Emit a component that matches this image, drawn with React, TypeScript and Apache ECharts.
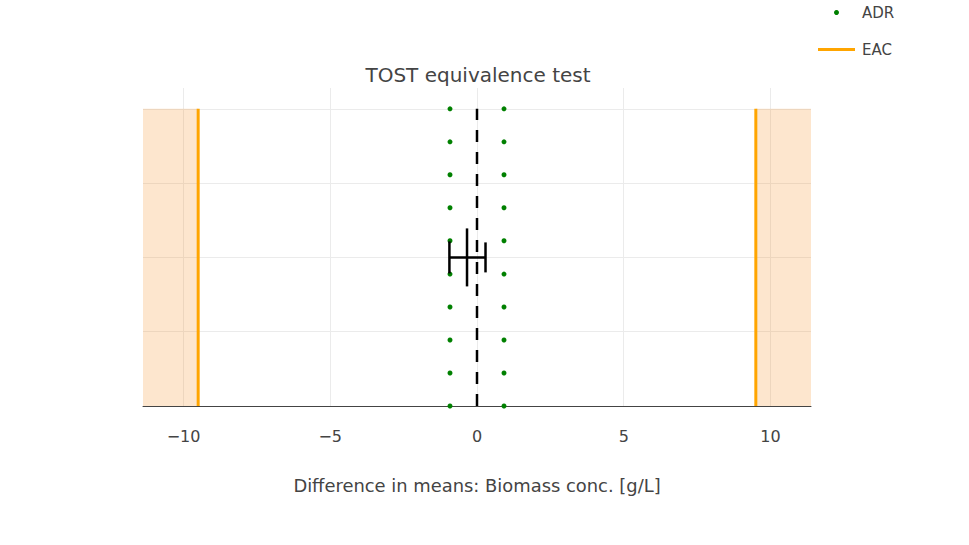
import React, { useEffect, useRef } from "react";
import * as echarts from "echarts";

// x axis extent and tick labels
const xRange = [-11.38, 11.38];
const xTicks = [-10, -5, 0, 5, 10];

// acceptable difference range (ADR) markers
const adrBounds = [-0.92, 0.92];
const adrY = [0, 0.111, 0.222, 0.333, 0.444, 0.556, 0.667, 0.778, 0.889, 1];

// equivalence acceptance criterion (EAC)
const eac = [-9.5, 9.5];

// difference in means: [estimate, lower, upper, y]
const diffMeans = [[-0.34, -0.94, 0.29, 0.5]];

const FONT = "DejaVu Sans, Verdana, sans-serif";

const App: React.FC = () => {
  const chartRef = useRef<HTMLDivElement>(null);

  useEffect(() => {
    if (!chartRef.current) return;
    const myChart = echarts.init(chartRef.current, undefined, { renderer: "svg" });

    const adrData = adrBounds.flatMap((x) => adrY.map((y) => [x, y]));

    const option: any = {
      animation: false,
      backgroundColor: "#fff",
      textStyle: { fontFamily: FONT, color: "#444" },
      title: {
        text: "TOST equivalence test",
        left: 478,
        top: 65,
        padding: 0,
        textAlign: "center",
        textStyle: { fontFamily: FONT, fontSize: 20, fontWeight: "normal", color: "#444" },
      },
      legend: {
        orient: "vertical",
        left: 818,
        top: 5,
        itemWidth: 37,
        itemHeight: 5,
        itemGap: 22,
        padding: 0,
        textStyle: { fontFamily: FONT, fontSize: 15, color: "#444", padding: [0, 0, 0, 2] },
        data: [
          { name: "ADR", icon: "circle" },
          { name: "EAC", icon: "path://M0,0H37V3H0Z" },
        ],
      },
      grid: { left: 143, right: 158, top: 88, bottom: 139 },
      xAxis: {
        type: "value",
        min: xRange[0],
        max: xRange[1],
        name: "Difference in means: Biomass conc. [g/L]",
        nameLocation: "middle",
        nameGap: 70,
        nameTextStyle: { fontFamily: FONT, fontSize: 17.9, color: "#444" },
        axisLine: { show: true, onZero: false, lineStyle: { color: "#444", width: 1 } },
        axisTick: { show: false },
        axisLabel: {
          margin: 22,
          fontSize: 16,
          color: "#444",
          fontFamily: FONT,
          showMinLabel: false,
          showMaxLabel: false,
          formatter: (v: number) =>
            xTicks.includes(v) ? (v < 0 ? "\u2212" + Math.abs(v) : String(v)) : "",
        },
        splitLine: {
          show: true,
          showMinLine: false,
          showMaxLine: false,
          lineStyle: { color: "#ebebeb", width: 1 },
        },
      },
      yAxis: {
        type: "value",
        min: 0,
        max: 1.07,
        interval: 0.25,
        axisLine: { show: false },
        axisTick: { show: false },
        axisLabel: { show: false },
        splitLine: {
          show: true,
          showMinLine: false,
          showMaxLine: false,
          lineStyle: { color: "#ebebeb", width: 1 },
        },
      },
      series: [
        {
          name: "EAC",
          type: "line",
          symbol: "none",
          silent: true,
          lineStyle: { color: "#ffa500", width: 3 },
          itemStyle: { color: "#ffa500" },
          data: [
            [eac[0], 0],
            [eac[0], 1],
          ],
          markArea: {
            silent: true,
            itemStyle: { color: "rgba(247, 140, 30, 0.22)" },
            data: [
              [
                { xAxis: xRange[0], yAxis: 0 },
                { xAxis: eac[0], yAxis: 1 },
              ],
              [
                { xAxis: eac[1], yAxis: 0 },
                { xAxis: xRange[1], yAxis: 1 },
              ],
            ],
          },
          z: 3,
        },
        {
          name: "EAC",
          type: "line",
          symbol: "none",
          silent: true,
          lineStyle: { color: "#ffa500", width: 3 },
          itemStyle: { color: "#ffa500" },
          data: [
            [eac[1], 0],
            [eac[1], 1],
          ],
          z: 3,
        },
        {
          name: "zero",
          type: "line",
          symbol: "none",
          silent: true,
          lineStyle: { color: "#000", width: 2.5, type: [12, 10] },
          data: [
            [0, 0],
            [0, 1],
          ],
          z: 4,
        },
        {
          name: "ADR",
          type: "scatter",
          symbol: "circle",
          symbolSize: 5,
          itemStyle: { color: "#008000", opacity: 1 },
          data: adrData,
          z: 5,
        },
        {
          name: "diff",
          type: "custom",
          silent: true,
          encode: { x: [0, 1, 2], y: 3 },
          data: diffMeans,
          renderItem: (params: any, api: any) => {
            const y = api.value(3);
            const c = api.coord([api.value(0), y]);
            const l = api.coord([api.value(1), y]);
            const r = api.coord([api.value(2), y]);
            const style = { stroke: "#000", lineWidth: 2.5 };
            return {
              type: "group",
              children: [
                { type: "line", shape: { x1: l[0], y1: l[1], x2: r[0], y2: r[1] }, style },
                { type: "line", shape: { x1: l[0], y1: l[1] - 16, x2: l[0], y2: l[1] + 16 }, style },
                { type: "line", shape: { x1: r[0], y1: r[1] - 15, x2: r[0], y2: r[1] + 15 }, style },
                { type: "line", shape: { x1: c[0], y1: c[1] - 29, x2: c[0], y2: c[1] + 29 }, style },
              ],
            };
          },
          z: 6,
        },
      ],
    };

    myChart.setOption(option);

    return () => {
      myChart.dispose();
    };
  }, []);

  return (
    <div
      ref={chartRef}
      style={{ position: "fixed", left: 0, top: 0, width: "969px", height: "545px" }}
    />
  );
};

export default App;
